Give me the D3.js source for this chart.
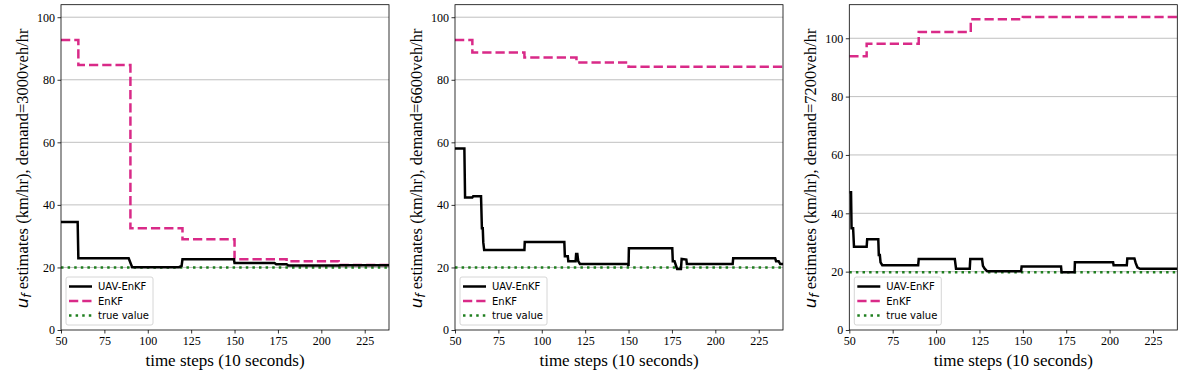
<!DOCTYPE html>
<html>
<head>
<meta charset="utf-8">
<script src="https://cdn.jsdelivr.net/npm/d3@7"></script>
<style>
  body { margin: 0; background: #fff; }
  svg { display: block; }
</style>
</head>
<body>
<div id="chart"></div>
<script>
var WIDTH = 1191, HEIGHT = 384;

// demand levels, one per panel
var demands = ["3000", "6600", "7200"];
var xTicks = [50, 75, 100, 125, 150, 175, 200, 225];
var yTicks = [0, 20, 40, 60, 80, 100];
var yMax = [104, 104, 111.5];
var trueValue = [20, 20, 19.8];

// UAV-EnKF estimates (time step, km/hr)
var uav1X = [50, 59.6, 60, 89, 91, 118, 119.5, 120, 149.6, 150, 173, 174, 180, 181, 210, 211, 239];
var uav1Y = [34.5, 34.5, 22.9, 22.9, 20.1, 20.1, 20.5, 22.6, 22.6, 21.4, 21.4, 21.0, 21.0, 20.6, 20.6, 20.7, 20.7];

var uav2X = [50, 55.4, 55.8, 60, 60.5, 65, 65.5, 66, 66.3, 66.8, 90, 90.2, 113, 113.3, 115, 115.3, 119.5, 119.8, 120.5, 121, 122, 149.5, 150, 150.2, 175.2, 175.5, 176.5, 177.5, 178, 180.2, 180.6, 183.3, 183.6, 210, 210.3, 234.5, 235, 236.5, 237.4, 239];
var uav2Y = [58, 58, 42.4, 42.4, 42.8, 42.8, 32.5, 32.5, 28, 25.6, 25.6, 28.1, 28.1, 23.6, 23.6, 22, 22, 24.3, 24.3, 22, 21.1, 21.1, 20.5, 26.1, 26.1, 22, 22, 20.3, 19.5, 19.5, 22.7, 22.5, 21.1, 21.1, 22.9, 22.9, 22, 22, 21.1, 21.1];

var uav3X = [50, 51, 51.3, 52.2, 52.7, 60, 60.3, 66.7, 67, 67.6, 68, 69, 89.7, 90, 110.8, 111.5, 119.4, 119.7, 126.5, 127, 128, 129.5, 149, 149.3, 172, 172.3, 179.8, 180, 202, 202.3, 209.9, 210.2, 214.3, 215, 216, 217.5, 239];
var uav3Y = [47.2, 47.2, 34.9, 34.9, 28.5, 28.5, 31.1, 31.1, 25.7, 25.7, 23.2, 22.2, 22.2, 24.3, 24.3, 21, 21, 24.3, 24.3, 22, 21, 20.1, 20.1, 21.8, 21.8, 19.8, 19.8, 23.2, 23.2, 22.2, 22.2, 24.5, 24.5, 23, 21.5, 21, 21];

// EnKF estimates, piecewise constant from each step start
var enkfSteps = [50, 60, 90, 120, 150, 180, 210, 239];
var enkf1 = [92.7, 84.7, 32.5, 29.0, 22.6, 22.0, 20.8, 20.8];
var enkf2 = [92.7, 88.7, 87.1, 85.5, 84.2, 84.2, 84.2, 84.2];
var enkf3 = [93.8, 98.1, 102.1, 106.5, 107.3, 107.3, 107.3, 107.3];

var uavX = [uav1X, uav2X, uav3X];
var uavY = [uav1Y, uav2Y, uav3Y];
var enkfY = [enkf1, enkf2, enkf3];

var PANEL_LEFT = [61, 455, 849.3];
var PANEL_W = 328;
var TOP = 4.7, BOTTOM = 330;

var PINK = "#d92a88";
var GREEN = "#1f7f1f";
var SERIF = "'Liberation Serif', 'Times New Roman', serif";
var SANS = "'DejaVu Sans', sans-serif";

var svg = d3.select("#chart").append("svg")
  .attr("width", WIDTH)
  .attr("height", HEIGHT);

demands.forEach(function(dem, i) {
  var left = PANEL_LEFT[i];

  var scaleX = d3.scaleLinear().domain([50, 239]).range([left, left + PANEL_W]);
  var scaleY = d3.scaleLinear().domain([0, yMax[i]]).range([BOTTOM, TOP]);

  var g = svg.append("g");

  // horizontal grid
  g.append("g")
    .selectAll("line")
    .data(yTicks.filter(function(t) { return t > 0; }))
    .enter().append("line")
    .attr("x1", left).attr("x2", left + PANEL_W)
    .attr("y1", function(d) { return scaleY(d); })
    .attr("y2", function(d) { return scaleY(d); })
    .style("stroke", "#b0b0b0")
    .style("stroke-width", 0.8);

  var clipId = "clip" + i;
  svg.append("clipPath").attr("id", clipId)
    .append("rect")
    .attr("x", left).attr("y", TOP)
    .attr("width", PANEL_W).attr("height", BOTTOM - TOP);

  var plot = g.append("g").attr("clip-path", "url(#" + clipId + ")");

  // true value
  plot.append("line")
    .attr("x1", scaleX(50)).attr("x2", scaleX(239))
    .attr("y1", scaleY(trueValue[i])).attr("y2", scaleY(trueValue[i]))
    .style("stroke", GREEN)
    .style("stroke-width", 2.5)
    .style("stroke-dasharray", "2.5,4.1");

  // EnKF
  var stepLine = d3.line()
    .x(function(d) { return scaleX(d[0]); })
    .y(function(d) { return scaleY(d[1]); })
    .curve(d3.curveStepAfter);
  plot.append("path")
    .datum(d3.zip(enkfSteps, enkfY[i]))
    .attr("d", stepLine)
    .style("fill", "none")
    .style("stroke", PINK)
    .style("stroke-width", 2.5)
    .style("stroke-dasharray", "9.25,4");

  // UAV-EnKF
  var line = d3.line()
    .x(function(d) { return scaleX(d[0]); })
    .y(function(d) { return scaleY(d[1]); });
  plot.append("path")
    .datum(d3.zip(uavX[i], uavY[i]))
    .attr("d", line)
    .style("fill", "none")
    .style("stroke", "#000")
    .style("stroke-width", 2.5)
    .style("stroke-linejoin", "miter");

  // axes
  var xAxis = d3.axisBottom(scaleX).tickValues(xTicks).tickSize(3.5).tickPadding(2.5);
  var yAxis = d3.axisLeft(scaleY).tickValues(yTicks).tickSize(3.5).tickPadding(2.5);

  var gx = g.append("g")
    .attr("transform", "translate(0," + BOTTOM + ")")
    .call(xAxis);
  var gy = g.append("g")
    .attr("transform", "translate(" + left + ",0)")
    .call(yAxis);
  [gx, gy].forEach(function(a) {
    a.attr("font-family", null);
    a.select(".domain").remove();
    a.selectAll("line").style("stroke", "#000").style("stroke-width", 0.8);
    a.selectAll("text")
      .style("font-family", SERIF)
      .style("font-size", "12px")
      .style("fill", "#000");
  });

  // frame
  g.append("rect")
    .attr("x", left).attr("y", TOP)
    .attr("width", PANEL_W).attr("height", BOTTOM - TOP)
    .style("fill", "none")
    .style("stroke", "#000")
    .style("stroke-width", 0.8);

  // x label
  g.append("text")
    .attr("x", left + PANEL_W / 2)
    .attr("y", 366)
    .style("text-anchor", "middle")
    .style("font-family", SERIF)
    .style("font-size", "17px")
    .text("time steps (10 seconds)");

  // y label
  var ylab = g.append("text")
    .attr("transform", "translate(" + (left - 33) + "," + ((TOP + BOTTOM) / 2 + 1) + ") rotate(-90)")
    .style("text-anchor", "middle")
    .style("font-family", SERIF)
    .style("font-size", "16.5px");
  ylab.append("tspan")
    .style("font-family", SANS)
    .style("font-style", "italic")
    .text("u");
  ylab.append("tspan")
    .attr("dy", 3)
    .style("font-family", SANS)
    .style("font-style", "italic")
    .style("font-size", "12px")
    .text("f");
  ylab.append("tspan")
    .attr("dy", -3)
    .text(" estimates (km/hr), demand=" + dem + "veh/hr");

  // legend
  var lx = left + 5, ly = 277;
  var lg = g.append("g");
  lg.append("rect")
    .attr("x", lx).attr("y", ly)
    .attr("width", 87).attr("height", 48)
    .attr("rx", 2)
    .style("fill", "#fff")
    .style("fill-opacity", 0.8)
    .style("stroke", "#ccc")
    .style("stroke-width", 0.8);
  var legItems = [
    { label: "UAV-EnKF", color: "#000", dash: null },
    { label: "EnKF", color: PINK, dash: "9.25,4" },
    { label: "true value", color: GREEN, dash: "2.5,4.1" }
  ];
  legItems.forEach(function(it, k) {
    var yy = ly + 9.5 + k * 14.5;
    lg.append("line")
      .attr("x1", lx + 3).attr("x2", lx + 26)
      .attr("y1", yy).attr("y2", yy)
      .style("stroke", it.color)
      .style("stroke-width", 2.5)
      .style("stroke-dasharray", it.dash);
    lg.append("text")
      .attr("x", lx + 32)
      .attr("y", yy + 3.6)
      .style("font-family", SANS)
      .style("font-size", "10px")
      .text(it.label);
  });
});
</script>
</body>
</html>
